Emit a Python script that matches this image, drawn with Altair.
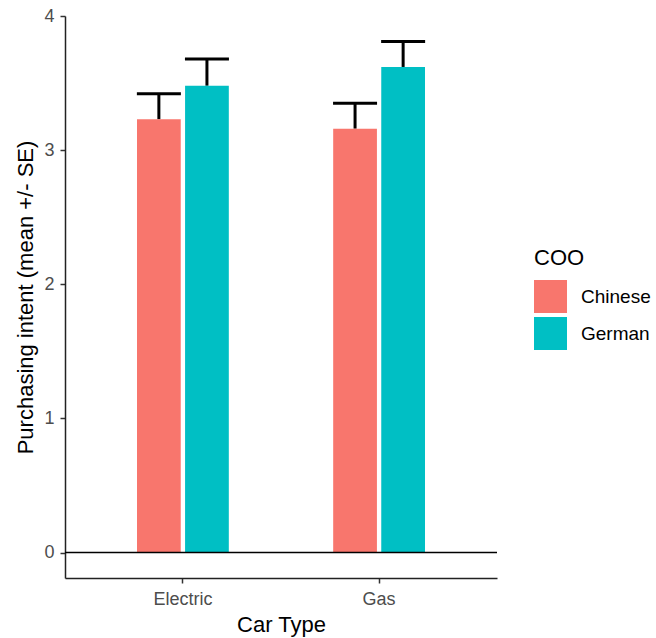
import altair as alt
import pandas as pd

car_type = ["Electric", "Electric", "Gas", "Gas"]
coo = ["Chinese", "German", "Chinese", "German"]
mean_val = [3.23, 3.48, 3.16, 3.62]
se_val = [0.19, 0.20, 0.19, 0.19]

df = pd.DataFrame({"car": car_type, "coo": coo, "mean": mean_val, "se": se_val})

FONT = "Liberation Sans"

x_enc = alt.X(
    "car:N",
    title="Car Type",
    sort=["Electric", "Gas"],
    scale=alt.Scale(paddingInner=0.532, paddingOuter=0.367),
    axis=alt.Axis(labelAngle=0, labelPadding=7, titlePadding=6),
)
xoff_enc = alt.XOffset(
    "coo:N", sort=["Chinese", "German"],
    scale=alt.Scale(paddingInner=0.09, paddingOuter=0),
)
y_scale = alt.Scale(domain=[-0.19, 4], nice=False, zero=False)

base = alt.Chart(df).transform_calculate(
    lo="datum.mean - datum.se", hi="datum.mean + datum.se"
).encode(x=x_enc, xOffset=xoff_enc)

bars = base.mark_bar().encode(
    y=alt.Y(
        "mean:Q",
        scale=y_scale,
        title="Purchasing intent (mean +/- SE)",
        axis=alt.Axis(values=[0, 1, 2, 3, 4], format="d", grid=False,
                      labelPadding=6, titlePadding=6),
    ),
    color=alt.Color(
        "coo:N",
        title="COO",
        scale=alt.Scale(domain=["Chinese", "German"], range=["#F8766D", "#00BFC4"]),
        legend=alt.Legend(
            orient="none", legendX=469, legendY=232,
            symbolType="square", symbolSize=1089, symbolStrokeWidth=0,
            symbolOpacity=1, titleFontSize=22, labelFontSize=19,
            titleFontWeight="normal", titleColor="black", labelColor="black",
            titlePadding=10, rowPadding=4, labelOffset=14, padding=0,
            titleFont=FONT, labelFont=FONT,
        ),
    ),
)

err = base.mark_rule(color="black", strokeWidth=3).encode(
    y=alt.Y("mean:Q", scale=y_scale), y2="hi:Q"
)
cap_hi = base.mark_tick(color="black", thickness=3, size=44, opacity=1).encode(
    y=alt.Y("hi:Q", scale=y_scale)
)
hline = alt.Chart(pd.DataFrame({"z": [0]})).mark_rule(color="black", strokeWidth=1.5).encode(
    y=alt.Y("z:Q", scale=y_scale)
)

chart = alt.layer(err, bars, cap_hi, hline).properties(
    width=432, height=562,
    background="white",
    autosize=alt.AutoSizeParams(type="none"),
    padding={"left": 65, "top": 16, "right": 159, "bottom": 60},
).configure_view(stroke=None).configure_axis(
    domainColor="#222", domainWidth=1.5, tickColor="#333", tickWidth=1.5,
    tickSize=5, labelFontSize=18, labelColor="#4D4D4D", labelFont=FONT,
    titleFontSize=22, titleFontWeight="normal", titleColor="black", titleFont=FONT,
)

chart.save("out.html", embed_options={"renderer": "svg", "actions": False})
